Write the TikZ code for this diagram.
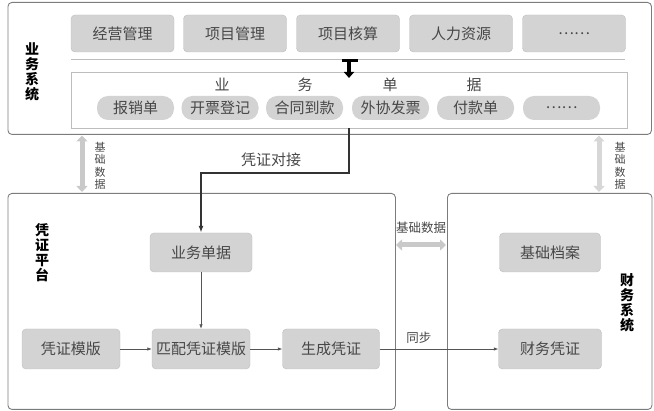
\documentclass[tikz,border=0pt]{standalone}
\usepackage{fontspec}
\setmainfont{Noto Sans CJK SC}
\usetikzlibrary{arrows.meta}
\definecolor{boxfill}{HTML}{D3D3D3}
\definecolor{boxline}{HTML}{BDBDBD}
\definecolor{txt}{HTML}{474747}
\definecolor{framec}{HTML}{7C7C7C}
\definecolor{dblfill}{HTML}{C9C9C9}
\definecolor{flowc}{HTML}{555555}
\begin{document}
\begin{tikzpicture}[x=1pt,y=-1pt,
  framebox/.style={draw=framec, line width=0.9pt, rounded corners=4pt, inner sep=0pt, anchor=north west},
  gbox/.style={draw=boxline, fill=boxfill, rounded corners=4pt, text=txt, inner sep=0pt,
    font=\fontsize{15}{15}\selectfont},
  pill/.style={fill=boxfill, rounded corners=11pt, text=txt, inner sep=0pt,
    minimum width=77pt, minimum height=24pt, font=\fontsize{15}{15}\selectfont},
  plain/.style={text=txt, inner sep=0pt, font=\fontsize{15}{15}\selectfont},
  vlabel/.style={font=\bfseries\fontsize{14}{15}\selectfont, align=center, text=black, inner sep=0pt},
  slabel/.style={font=\fontsize{11}{12.5}\selectfont, align=center, text=txt, inner sep=0pt},
  flow/.style={draw=flowc, line width=0.7pt, -{Latex[length=4.5pt,width=3.5pt]}},
  dbl/.style={line width=5pt, draw=dblfill, {Triangle[length=6pt,width=11pt]}-{Triangle[length=6pt,width=11pt]}}
]
\useasboundingbox (0,0) rectangle (654,411);

% frames
\node[framebox, minimum width=643.5pt, minimum height=132pt] (yw) at (7.5,2) {};
\node[framebox, minimum width=387.5pt, minimum height=216pt] (pt) at (7.5,193) {};
\node[framebox, minimum width=204.5pt, minimum height=216pt] (cw) at (447,193) {};

% frame labels
\node[vlabel] (ywl) at (32,72) {业\\务\\系\\统};
\node[vlabel] (ptl) at (42,252.5) {凭\\证\\平\\台};
\node[vlabel] (cwl) at (627,302.5) {财\\务\\系\\统};

% top row
\foreach \x/\n/\t in {122.5/m1/经营管理, 235/m2/项目管理, 348/m3/项目核算, 461/m4/人力资源, 574/m5/……}
  \node[gbox, minimum width=103pt, minimum height=37pt] (\n) at (\x,33.5) {\t};

% separator line
\coordinate (sepl) at (71,60);
\coordinate (sepr) at (625,60);
\draw[draw=boxline, line width=1pt] (sepl) -- (sepr);

% inner documents box
\node[draw=boxline, line width=0.8pt, inner sep=0pt, minimum width=556pt, minimum height=56pt, anchor=north west] (docs) at (71,72) {};

% black down arrow with bar
\coordinate (tbl) at (342,60.5);
\coordinate (tbr) at (358,60.5);
\coordinate (ta) at (349,61);
\coordinate (tb) at (349,78);
\draw[line width=2.5pt, black] (tbl) -- (tbr);
\draw[line width=3.5pt, black, -{Triangle[length=6pt,width=10pt]}] (ta) -- (tb);

% 业 务 单 据
\node[plain] (l1) at (222,85) {业};
\node[plain] (l2) at (305,85) {务};
\node[plain] (l3) at (390,85) {单};
\node[plain] (l4) at (474,85) {据};

% pills
\foreach \x/\n/\t in {135.5/p1/报销单, 220/p2/开票登记, 304.5/p3/合同到款, 390.5/p4/外协发票, 475.5/p5/付款单, 561.5/p6/……}
  \node[pill] (\n) at (\x,108) {\t};

% platform nodes
\node[gbox, minimum width=102pt, minimum height=39pt] (ydj) at (201,252.5) {业务单据};
\node[gbox, minimum width=98pt, minimum height=40pt] (pzmb) at (71,349) {凭证模版};
\node[gbox, minimum width=98pt, minimum height=40pt] (ppmb) at (201,349) {匹配凭证模版};
\node[gbox, minimum width=97pt, minimum height=40pt] (scpz) at (331,349) {生成凭证};
\node[gbox, minimum width=101pt, minimum height=39pt] (jcda) at (550,252.5) {基础档案};
\node[gbox, minimum width=103pt, minimum height=40pt] (cwpz) at (550,349) {财务凭证};

% voucher connection
\coordinate (c1) at (349,128);
\coordinate (bend) at (201,173);
\draw[draw=black!80, line width=1.8pt, -{Latex[length=7pt,width=5pt]}] (c1) |- (bend) -- (ydj.north);
\node[plain] (pzdj) at (271,160) {凭证对接};

% flows
\draw[flow] (ydj.south) -- (ppmb.north);
\draw[flow] (pzmb.east) -- (ppmb.west);
\draw[flow] (ppmb.east) -- (scpz.west);
\draw[flow] (scpz.east) -- node[pos=0.33, above=5pt, plain, font=\fontsize{12.5}{12.5}\selectfont] (tb1) {同步} (cwpz.west);

% basic data double arrows
\coordinate (la) at (82,135.5);
\coordinate (lb) at (82,192);
\draw[dbl] (la) -- (lb);
\node[slabel] (lal) at (100,166) {基\\础\\数\\据};

\coordinate (ra) at (599,135.5);
\coordinate (rb) at (599,192);
\draw[dbl, draw=dblfill!75] (ra) -- (rb);
\node[slabel] (ral) at (620,166) {基\\础\\数\\据};

\coordinate (ma) at (396,245);
\coordinate (mb) at (446,245);
\draw[dbl] (ma) -- (mb);
\node[plain, font=\fontsize{12.5}{12.5}\selectfont] (mal) at (421,228) {基础数据};

\end{tikzpicture}
\end{document}
